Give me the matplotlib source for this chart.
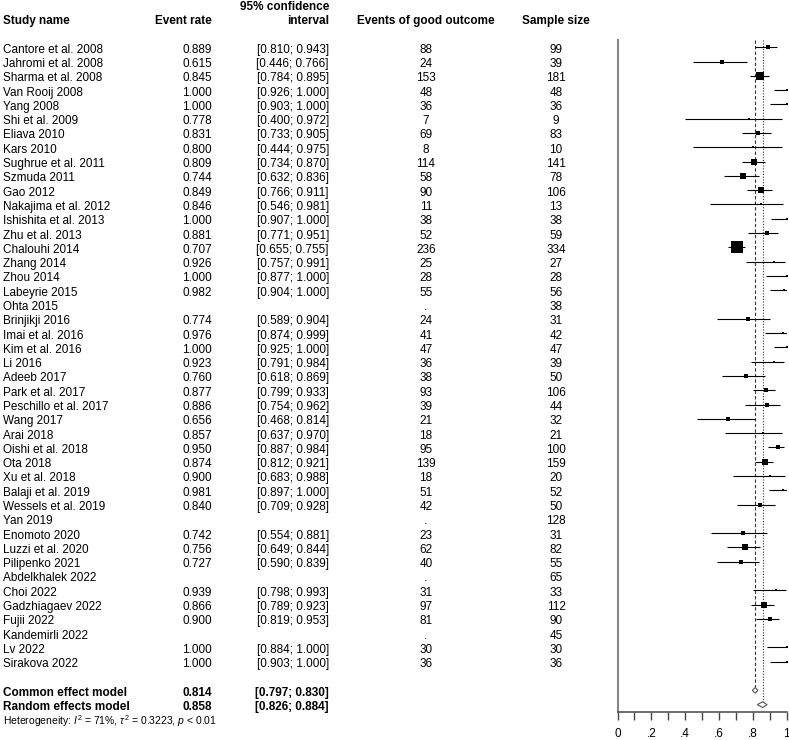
import numpy as np
import matplotlib
matplotlib.use("Agg")
import matplotlib.pyplot as plt
from matplotlib import transforms
from matplotlib.patches import Polygon

plt.rcParams['font.family'] = ['Liberation Sans', 'DejaVu Sans']
plt.rcParams['mathtext.fontset'] = 'custom'
plt.rcParams['mathtext.rm'] = 'Liberation Sans'
plt.rcParams['mathtext.it'] = 'Liberation Sans:italic'
plt.rcParams['mathtext.bf'] = 'Liberation Sans:bold'

# ---------------- data ----------------
studies = ["Cantore et al. 2008", "Jahromi et al. 2008", "Sharma et al. 2008", "Van Rooij 2008",
           "Yang 2008", "Shi et al. 2009", "Eliava 2010", "Kars 2010", "Sughrue et al. 2011",
           "Szmuda 2011", "Gao 2012", "Nakajima et al. 2012", "Ishishita et al. 2013",
           "Zhu et al. 2013", "Chalouhi 2014", "Zhang 2014", "Zhou 2014", "Labeyrie 2015",
           "Ohta 2015", "Brinjikji 2016", "Imai et al. 2016", "Kim et al. 2016", "Li 2016",
           "Adeeb 2017", "Park et al. 2017", "Peschillo et al. 2017", "Wang 2017", "Arai 2018",
           "Oishi et al. 2018", "Ota 2018", "Xu et al. 2018", "Balaji et al. 2019",
           "Wessels et al. 2019", "Yan 2019", "Enomoto 2020", "Luzzi et al. 2020",
           "Pilipenko 2021", "Abdelkhalek 2022", "Choi 2022", "Gadzhiagaev 2022", "Fujii 2022",
           "Kandemirli 2022", "Lv 2022", "Sirakova 2022"]
events = [88, 24, 153, 48, 36, 7, 69, 8, 114, 58, 90, 11, 38, 52, 236, 25, 28, 55, None, 24,
          41, 47, 36, 38, 93, 39, 21, 18, 95, 139, 18, 51, 42, None, 23, 62, 40, None, 31, 97,
          81, None, 30, 36]
sample_size = [99, 39, 181, 48, 36, 9, 83, 10, 141, 78, 106, 13, 38, 59, 334, 27, 28, 56, 38,
               31, 42, 47, 39, 50, 106, 44, 32, 21, 100, 159, 20, 52, 50, 128, 31, 82, 55, 65,
               33, 112, 90, 45, 30, 36]
event_rate = [0.889, 0.615, 0.845, 1.000, 1.000, 0.778, 0.831, 0.800, 0.809, 0.744, 0.849,
              0.846, 1.000, 0.881, 0.707, 0.926, 1.000, 0.982, None, 0.774, 0.976, 1.000,
              0.923, 0.760, 0.877, 0.886, 0.656, 0.857, 0.950, 0.874, 0.900, 0.981, 0.840,
              None, 0.742, 0.756, 0.727, None, 0.939, 0.866, 0.900, None, 1.000, 1.000]
ci_lower = [0.810, 0.446, 0.784, 0.926, 0.903, 0.400, 0.733, 0.444, 0.734, 0.632, 0.766,
            0.546, 0.907, 0.771, 0.655, 0.757, 0.877, 0.904, None, 0.589, 0.874, 0.925,
            0.791, 0.618, 0.799, 0.754, 0.468, 0.637, 0.887, 0.812, 0.683, 0.897, 0.709,
            None, 0.554, 0.649, 0.590, None, 0.798, 0.789, 0.819, None, 0.884, 0.903]
ci_upper = [0.943, 0.766, 0.895, 1.000, 1.000, 0.972, 0.905, 0.975, 0.870, 0.836, 0.911,
            0.981, 1.000, 0.951, 0.755, 0.991, 1.000, 1.000, None, 0.904, 0.999, 1.000,
            0.984, 0.869, 0.933, 0.962, 0.814, 0.970, 0.984, 0.921, 0.988, 1.000, 0.928,
            None, 0.881, 0.844, 0.839, None, 0.993, 0.923, 0.953, None, 1.000, 1.000]

model_names = ["Common effect model", "Random effects model"]
model_est = [0.814, 0.858]
model_lower = [0.797, 0.826]
model_upper = [0.830, 0.884]

heterogeneity = r"Heterogeneity: $I^2$ = 71%, $\tau^2$ = 0.3223, $p$ < 0.01"
xtick_values = [0, 0.1, 0.2, 0.3, 0.4, 0.5, 0.6, 0.7, 0.8, 0.9, 1.0]
xtick_labels = ["0", "", ".2", "", ".4", "", ".6", "", ".8", "", "1"]

# ---------------- layout ----------------
W, H = 789, 740
fig = plt.figure(figsize=(W / 100, H / 100), dpi=100)
tax = fig.add_axes([0, 0, 1, 1])
tax.set_xlim(0, W)
tax.set_ylim(H, 0)
tax.axis('off')

X0, X1 = 617.5, 786.7
Y_TOP, Y_AX = 40.0, 711.7
ROW0, ROWH = 47.3, 14.29
ax = fig.add_axes([X0 / W, (H - Y_AX) / H, (X1 - X0) / W, (Y_AX - Y_TOP) / H])
ax.patch.set_visible(False)
ytop = (Y_TOP - ROW0) / ROWH
ybot = (Y_AX - ROW0) / ROWH
ax.set_ylim(ybot, ytop)
ax.set_xlim(0, 1)

tr = transforms.blended_transform_factory(tax.transData, ax.transData)
FS = 8.5
BASE = 0.38  # baseline offset in rows

X_NAME, X_RATE, X_CI, X_EV, X_N = 3, 212, 329, 426, 556

# headers (pixel coords)
hkw = dict(fontsize=FS, fontweight='bold', va='baseline', transform=tax.transData)
tax.text(X_NAME, 24, "Study name", ha='left', **hkw)
tax.text(X_RATE, 24, "Event rate", ha='right', **hkw)
tax.text(X_CI, 9.5, "95% confidence", ha='right', **hkw)
tax.text(X_CI, 24, "interval", ha='right', **hkw)
tax.text(X_EV, 24, "Events of good outcome", ha='center', **hkw)
tax.text(X_N, 24, "Sample size", ha='center', **hkw)

n_st = len(studies)
K = 1.44 * 0.72  # px -> pt factor for square side from sqrt(weight)
MIN_SIDE = 2.6 * 0.72
for i in range(n_st):
    yb = i + BASE
    tkw = dict(fontsize=FS, va='baseline', transform=tr)
    tax.text(X_NAME, yb, studies[i], ha='left', **tkw)
    if event_rate[i] is not None:
        tax.text(X_RATE, yb, f"{event_rate[i]:.3f}", ha='right', **tkw)
        tax.text(X_CI, yb, f"[{ci_lower[i]:.3f}; {ci_upper[i]:.3f}]", ha='right', **tkw)
        tax.text(X_EV, yb, str(events[i]), ha='center', **tkw)
    else:
        tax.text(X_EV, yb, ".", ha='center', **tkw)
    tax.text(X_N, yb, str(sample_size[i]), ha='center', **tkw)

    if event_rate[i] is not None:
        ax.plot([ci_lower[i], ci_upper[i]], [i, i], color='black', lw=0.8,
                solid_capstyle='butt', zorder=2)
        x, n = events[i], sample_size[i]
        cc = 0.5 if (x == 0 or x == n) else 0.0
        w = 1.0 / (1.0 / (x + cc) + 1.0 / (n - x + cc))
        ax.plot([event_rate[i]], [i], marker='s', color='black', mew=0,
                markersize=max(K * np.sqrt(w), MIN_SIDE), zorder=3)

# models
hd = 0.2
for j in range(2):
    r = n_st + 1 + j
    tkw = dict(fontsize=FS, fontweight='bold', va='baseline', transform=tr)
    tax.text(X_NAME, r + BASE, model_names[j], ha='left', **tkw)
    tax.text(X_RATE, r + BASE, f"{model_est[j]:.3f}", ha='right', **tkw)
    tax.text(X_CI, r + BASE, f"[{model_lower[j]:.3f}; {model_upper[j]:.3f}]", ha='right', **tkw)
    poly = Polygon([(model_lower[j], r), (model_est[j], r - hd), (model_upper[j], r),
                    (model_est[j], r + hd)], closed=True, facecolor='white',
                   edgecolor='#555555', lw=0.8, zorder=4, clip_on=False)
    ax.add_patch(poly)

ax.plot([model_est[0]] * 2, [ytop, n_st + 1 - hd], color='#333333', lw=0.8,
        linestyle=(0, (3, 2)), zorder=1)
ax.plot([model_est[1]] * 2, [ytop, n_st + 2 - hd], color='#333333', lw=0.8,
        linestyle=(0, (1, 1.5)), zorder=1)

tax.text(X_NAME, n_st + 3 + 0.39, heterogeneity, ha='left', va='baseline',
         fontsize=7.5, transform=tr)

# axes styling
for s in ['top', 'right']:
    ax.spines[s].set_visible(False)
ax.spines['left'].set_color('#888888')
ax.spines['left'].set_linewidth(1.5)
ax.spines['bottom'].set_color('#555555')
ax.spines['bottom'].set_linewidth(1.2)
ax.set_yticks([])
ax.set_xticks(xtick_values)
ax.set_xticklabels(xtick_labels)
ax.tick_params(axis='x', direction='out', length=6, width=1, color='#444444',
               labelsize=FS, pad=6)

fig.savefig("out.png", dpi=100)
